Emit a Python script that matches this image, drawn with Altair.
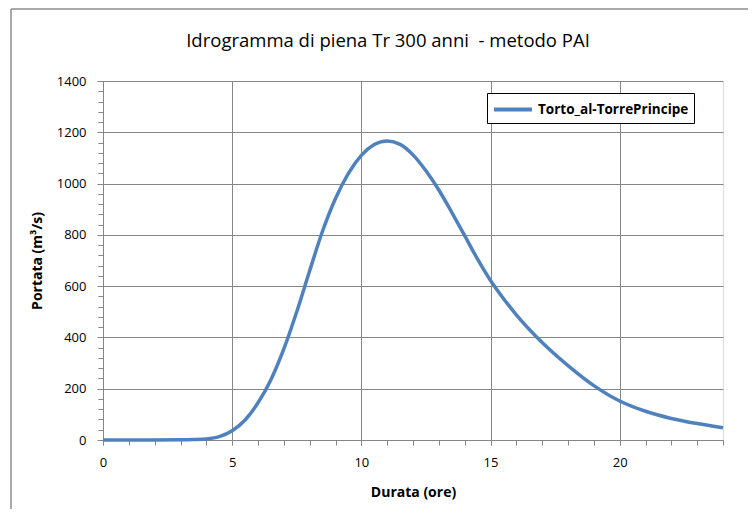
import altair as alt
import pandas as pd

chart_title = "Idrogramma di piena Tr 300 anni\u00a0 - metodo PAI"
x_title = "Durata (ore)"
y_title = "Portata (m³/s)"
series_name = "Torto_al-TorrePrincipe"

hours = [0, 1, 2, 3, 3.5, 4, 4.5, 5, 5.5, 6, 6.5, 7, 7.5, 8, 8.5, 9, 9.5, 10,
         10.5, 11, 11.5, 12, 12.5, 13, 13.5, 14, 14.5, 15, 15.5, 16, 17, 18,
         19, 20, 21, 22, 23, 24]
flow = [0, 0, 0, 0.5, 1.5, 4, 13, 36, 78, 145, 235, 355, 500, 660, 815, 942,
        1040, 1110, 1152, 1166, 1153, 1112, 1050, 975, 888, 797, 705, 622, 552,
        488, 380, 290, 212, 152, 112, 84, 64, 48]

x_major = [0, 5, 10, 15, 20]
x_minor = list(range(0, 25))
y_major = [0, 200, 400, 600, 800, 1000, 1200, 1400]
y_minor = list(range(0, 1401, 40))

df = pd.DataFrame({"ore": hours, "portata": flow, "serie": [series_name] * len(hours)})

FONT = "Open Sans"
GRID = "#868686"
BLUE = "#4F81BD"

xs = alt.Scale(domain=[0, 24], nice=False, zero=False)
ys = alt.Scale(domain=[0, 1400], nice=False)

main = alt.Chart(df).mark_line(interpolate="monotone", strokeWidth=3.5).encode(
    x=alt.X("ore:Q", scale=xs, axis=alt.Axis(
        values=x_major, format="d", labelFlush=False, title=x_title,
        grid=True, gridColor=GRID, gridWidth=1,
        domainColor=GRID, tickColor=GRID, tickSize=5, labelPadding=11,
        labelFontSize=13, labelFont=FONT, labelColor="#000",
        titleFont=FONT, titleFontSize=14, titleFontWeight="bold", titleColor="#000",
        titleY=52, titleBaseline="middle", orient="bottom")),
    y=alt.Y("portata:Q", scale=ys, axis=alt.Axis(
        values=y_major, format="d", labelFlush=False, title=y_title,
        grid=True, gridColor=GRID, gridWidth=1,
        domainColor=GRID, tickColor=GRID, tickSize=6, labelPadding=11,
        labelFontSize=13, labelFont=FONT, labelColor="#000",
        titleFont=FONT, titleFontSize=14, titleFontWeight="bold", titleColor="#000",
        titleX=-66, titleY=179.5, titleBaseline="middle", orient="left")),
    color=alt.Color("serie:N", scale=alt.Scale(range=[BLUE]), legend=alt.Legend(
        title=None, orient="none", legendX=384, legendY=12,
        strokeColor="#000", fillColor="#fff", padding=5,
        symbolType="M-1,0H3", symbolSize=361, symbolStrokeWidth=4,
        labelFont=FONT, labelFontSize=13.5, labelFontWeight="bold",
        labelColor="#000", labelOffset=23)),
)

minor = alt.Chart(df).mark_line(opacity=0).encode(
    x=alt.X("ore:Q", scale=xs, axis=alt.Axis(
        values=x_minor, labels=False, grid=False, domain=False, title=None,
        tickColor=GRID, tickSize=5, orient="bottom")),
    y=alt.Y("portata:Q", scale=ys, axis=alt.Axis(
        values=y_minor, labels=False, grid=False, domain=False, title=None,
        tickColor=GRID, tickSize=5, orient="left")),
)

frame_src = alt.Data(values=[{"k": 1}])
frame_top = alt.Chart(frame_src).mark_rule(color="#8c8c8c", strokeWidth=1.5).encode(
    x=alt.value(-92), x2=alt.value(650), y=alt.value(-72))
frame_left = alt.Chart(frame_src).mark_rule(color="#8c8c8c", strokeWidth=1.5).encode(
    x=alt.value(-92), y=alt.value(-72), y2=alt.value(440))

chart = alt.layer(minor, main, frame_top, frame_left).resolve_axis(
    x="independent", y="independent"
).properties(
    width=620, height=359,
    title=alt.TitleParams(chart_title, font=FONT, fontSize=18.5, fontWeight="normal",
                          color="#000", anchor="middle", frame="group", dx=-25,
                          offset=-57, baseline="alphabetic"),
    autosize=alt.AutoSizeParams(type="none"),
    padding={"left": 95, "top": 73, "right": 25, "bottom": 69},
).configure_view(stroke="#000", strokeWidth=1.5).configure(background="#fff")

chart.save("out.html", embed_options={"renderer": "svg", "actions": False})
